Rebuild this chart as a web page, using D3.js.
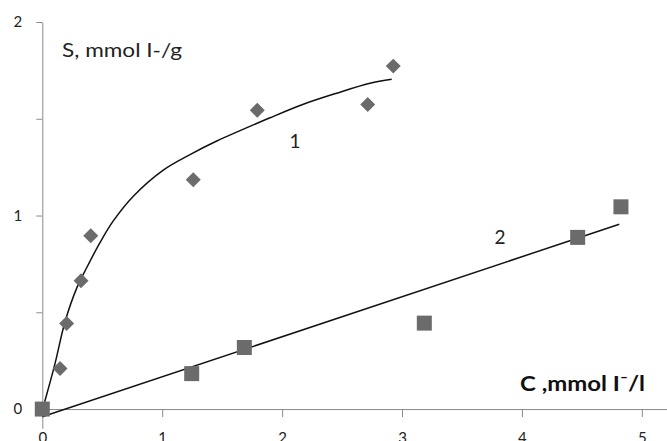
<!DOCTYPE html>
<html>
<head>
<meta charset="utf-8">
<script src="https://cdn.jsdelivr.net/npm/d3@7"></script>
<style>
  body { margin: 0; background: #fff; }
  svg { display: block; font-family: Lato, "Open Sans", sans-serif; }
</style>
</head>
<body>
<div id="chart"></div>
<script>
// series 1 (diamonds) - C, S
var c1 = [0.148, 0.203, 0.323, 0.404, 1.259, 1.793, 2.714, 2.927];
var s1 = [0.209, 0.442, 0.663, 0.896, 1.185, 1.544, 1.574, 1.772];
// series 2 (squares)
var c2 = [0.0, 1.246, 1.685, 3.186, 4.465, 4.826];
var s2 = [0.0, 0.183, 0.318, 0.444, 0.887, 1.045];
// fitted curve for 1
var fitC1 = [0.02, 0.106, 0.189, 0.287, 0.370, 0.481, 0.592, 0.759, 1.009, 1.232, 1.455, 1.899, 2.177, 2.455, 2.733, 2.914];
var fitS1 = [0.038, 0.235, 0.450, 0.625, 0.730, 0.860, 0.972, 1.100, 1.235, 1.315, 1.385, 1.505, 1.575, 1.632, 1.683, 1.704];
// straight line for 2 (end points)
var fitC2 = [0.0, 4.812];
var fitS2 = [-0.04, 0.955];

var xTicks = [0, 1, 2, 3, 4, 5];
var yTicks = [0, 0.5, 1, 1.5, 2];
var yLabels = ["0", "", "1", "", "2"];

var W = 667, H = 441;

var svg = d3.select("#chart").append("svg")
    .attr("width", W)
    .attr("height", H);

var x = d3.scaleLinear().domain([0, 5.21]).range([42.3, 667]);
var y = d3.scaleLinear().domain([-0.1, 2]).range([428.4, 22]);

var axisColor = "#8a8a8a";
var markColor = "#6b6b6b";

// y axis
var yAxis = svg.append("g")
    .attr("transform", `translate(${x(0)},0)`)
    .call(d3.axisLeft(y).tickValues(yTicks).tickSize(6).tickSizeOuter(0).tickPadding(14)
        .tickFormat(function(d, i) { return yLabels[i]; }));
yAxis.select(".domain").attr("stroke", axisColor);
yAxis.selectAll(".tick line").attr("stroke", axisColor);
yAxis.selectAll("text").attr("font-size", "15px").attr("fill", "#222")
    .attr("font-family", "Lato, sans-serif");

// x axis
var xAxis = svg.append("g")
    .attr("transform", `translate(0,${y(0)})`)
    .call(d3.axisBottom(x).tickValues(xTicks).tickSize(8).tickSizeOuter(0).tickPadding(15)
        .tickFormat(d3.format("d")));
xAxis.select(".domain").attr("stroke", axisColor);
xAxis.selectAll(".tick line").attr("stroke", axisColor);
xAxis.selectAll(".tick").filter(function(d) { return d === 0; }).select("line").remove();
xAxis.selectAll("text").attr("font-size", "15px").attr("fill", "#222")
    .attr("font-family", "Lato, sans-serif");

// lines
svg.append("path")
    .datum(d3.zip(fitC1, fitS1))
    .attr("fill", "none")
    .attr("stroke", "#111")
    .attr("stroke-width", 1.5)
    .attr("d", d3.line()
        .x(function(d) { return x(d[0]); })
        .y(function(d) { return y(d[1]); })
        .curve(d3.curveCatmullRom));

svg.append("path")
    .datum(d3.zip(fitC2, fitS2))
    .attr("fill", "none")
    .attr("stroke", "#111")
    .attr("stroke-width", 1.5)
    .attr("d", d3.line().x(function(d) { return x(d[0]); }).y(function(d) { return y(d[1]); }));

// markers
var diamond = d3.symbol().type(d3.symbolSquare).size(112);
var square = d3.symbol().type(d3.symbolSquare).size(225);

svg.selectAll(".diamond")
    .data(d3.zip(c1, s1))
    .join("path")
    .attr("class", "diamond")
    .attr("d", diamond)
    .attr("fill", markColor)
    .attr("transform", function(d) { return `translate(${x(d[0])},${y(d[1])}) rotate(45)`; });

svg.selectAll(".square")
    .data(d3.zip(c2, s2))
    .join("path")
    .attr("class", "square")
    .attr("d", square)
    .attr("fill", markColor)
    .attr("transform", function(d) { return `translate(${x(d[0])},${y(d[1])})`; });

// labels
svg.append("text")
    .attr("x", 62)
    .attr("y", 57)
    .attr("font-size", "19px")
    .attr("textLength", 120)
    .attr("lengthAdjust", "spacingAndGlyphs")
    .attr("fill", "#222")
    .text("S, mmol I-/g");

svg.append("text")
    .attr("x", 520)
    .attr("y", 391)
    .attr("font-size", "20px")
    .attr("font-weight", "bold")
    .attr("textLength", 125)
    .attr("lengthAdjust", "spacingAndGlyphs")
    .attr("fill", "#111")
    .text("C ,mmol I\u207B/l");

svg.append("text")
    .attr("x", 295)
    .attr("y", 148)
    .attr("text-anchor", "middle")
    .attr("font-size", "19px")
    .attr("fill", "#222")
    .text("1");

svg.append("text")
    .attr("x", 500)
    .attr("y", 244)
    .attr("text-anchor", "middle")
    .attr("font-size", "19px")
    .attr("fill", "#222")
    .text("2");
</script>
</body>
</html>
